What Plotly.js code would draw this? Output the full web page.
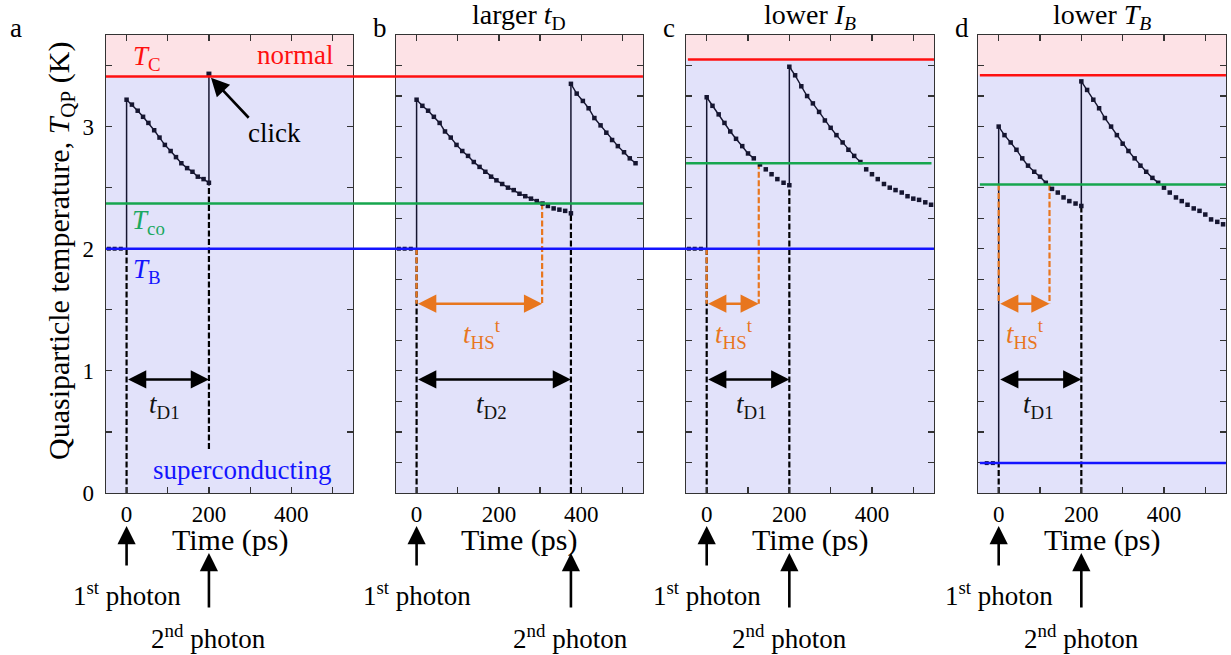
<!DOCTYPE html>
<html><head><meta charset="utf-8">
<script src="https://cdn.plot.ly/plotly-3.0.1.min.js"></script>
<style>body{margin:0;background:#fff}#chart{width:1231px;height:655px}</style>
</head><body><div id="chart"></div>
<script>
// ---------------- data ----------------
const panelLetters = ['a', 'b', 'c', 'd'];
const panelTitles = ['', 'larger <i>t</i><sub>D</sub>', 'lower <i>I</i><sub><i>B</i></sub>', 'lower <i>T</i><sub><i>B</i></sub>'];
const delayLabels = ['<i>t</i><sub>D1</sub>', '<i>t</i><sub>D2</sub>', '<i>t</i><sub>D1</sub>', '<i>t</i><sub>D1</sub>'];
const hotspotLabel = '<i>t</i><sub>HS</sub><sup>t</sup>';
const T_C  = [3.41, 3.41, 3.55, 3.42];     // critical temperature (K)
const T_CO = [2.37, 2.37, 2.70, 2.525];    // cross-over temperature (K)
const T_B  = [2.0, 2.0, 2.0, 0.245];       // bath temperature (K)
const photon1 = [0, 0, 0, 0];              // ps
const photon2 = [200, 375, 200, 200];      // ps
const tHS = [null, 305, 126, 123];         // ps
const photon2DashFrom = [0.36, 0, 0, 0];
const preTimes = [[-43, -29, -14], [-43, -29, -14], [-43, -29, -14], [-29, -14]];

// panel a
const aTime1 = [0, 13, 27, 40, 53, 67, 80, 93, 107, 120, 133, 147, 160, 173, 187, 200];
const aTemp1 = [3.22, 3.18, 3.13, 3.08, 3.03, 2.97, 2.91, 2.85, 2.80, 2.75, 2.70, 2.66, 2.63, 2.59, 2.57, 2.54];
const aClickTemp = 3.43;
// panel b
const bTime1 = [0, 14, 28, 42, 56, 69, 83, 97, 111, 125, 139, 153, 167, 181, 194, 208, 222, 236, 250, 264, 278, 292, 306, 319, 333, 347, 361, 375];
const bTemp1 = [3.22, 3.17, 3.13, 3.08, 3.03, 2.96, 2.91, 2.85, 2.80, 2.76, 2.71, 2.67, 2.63, 2.59, 2.56, 2.53, 2.50, 2.48, 2.45, 2.43, 2.41, 2.39, 2.37, 2.35, 2.33, 2.32, 2.31, 2.29];
const bTime2 = [375, 389, 404, 418, 432, 447, 461, 475, 489, 504, 518, 532];
const bTemp2 = [3.35, 3.27, 3.21, 3.15, 3.07, 3.01, 2.95, 2.89, 2.84, 2.79, 2.74, 2.70];
// panel c
const cTime1 = [0, 14, 29, 43, 57, 71, 86, 100, 114, 129, 143, 157, 171, 186, 200];
const cTemp1 = [3.24, 3.17, 3.10, 3.03, 2.96, 2.90, 2.84, 2.78, 2.74, 2.69, 2.65, 2.61, 2.57, 2.54, 2.52];
const cTime2 = [200, 214, 229, 243, 257, 272, 286, 300, 314, 329, 343, 357, 372, 386, 400, 414, 429, 443, 457, 472, 486, 500, 514, 529, 543];
const cTemp2 = [3.49, 3.42, 3.33, 3.25, 3.19, 3.12, 3.05, 2.99, 2.93, 2.87, 2.81, 2.76, 2.71, 2.65, 2.61, 2.57, 2.53, 2.50, 2.48, 2.46, 2.43, 2.41, 2.40, 2.38, 2.36];
// panel d
const dTime1 = [0, 14, 29, 43, 57, 71, 86, 100, 114, 129, 143, 157, 171, 186, 200];
const dTemp1 = [3.00, 2.93, 2.87, 2.81, 2.74, 2.68, 2.63, 2.59, 2.54, 2.49, 2.46, 2.42, 2.39, 2.37, 2.35];
const dTime2 = [200, 214, 229, 243, 257, 272, 286, 300, 314, 329, 343, 357, 372, 386, 400, 414, 429, 443, 457, 472, 486, 500, 514, 529, 543];
const dTemp2 = [3.37, 3.30, 3.22, 3.15, 3.07, 3.00, 2.93, 2.86, 2.80, 2.74, 2.68, 2.63, 2.58, 2.54, 2.50, 2.46, 2.42, 2.39, 2.36, 2.33, 2.31, 2.28, 2.24, 2.22, 2.20];

// tick labels
const xTickVals = [0, 100, 200, 300, 400, 500];
const xTickText = ['0', '', '200', '', '400', ''];
const yTickValsA = [0, 0.5, 1, 1.5, 2, 2.5, 3, 3.5];
const yTickTextA = ['0', '', '1', '', '2', '', '3', ''];
const yTickValsOther = [0, 0.25, 0.5, 0.75, 1, 1.25, 1.5, 1.75, 2, 2.25, 2.5, 2.75, 3, 3.25, 3.5];

const decays = [
  [[aTime1, aTemp1]],
  [[bTime1, bTemp1], [bTime2, bTemp2]],
  [[cTime1, cTemp1], [cTime2, cTemp2]],
  [[dTime1, dTemp1], [dTime2, dTemp2]]
];

// ---------------- layout constants ----------------
const W = 1231, H = 655;
const FONT = '"Liberation Serif", "Times New Roman", serif';
const xDomains = [[0.0861, 0.2868], [0.3217, 0.5223], [0.5573, 0.7587], [0.7945, 0.9959]];
const yDomain = [0.2473, 0.9466];
const X_RANGE = [-50, 550], Y_RANGE = [0, 3.75];
const HS_Y = 1.55, D_Y = 0.93;
const INK = '#151530', RED = '#ff1010', GREEN = '#16a64e', BLUE = '#1414ff', ORANGE = '#e8761e';
const PINK = '#fde2e6', LAVENDER = '#e2e2fa';
const DASH = '6px,2.5px';
const ARROW = {arrowhead: 2, arrowsize: 1.4, arrowwidth: 2.6, standoff: 0};
const py = px => 1 - px / H;
const pxX = px => px / W;

const traces = [];
const shapes = [];
const annotations = [];
const layout = {
  width: W, height: H, margin: {l: 0, r: 0, t: 0, b: 0},
  paper_bgcolor: '#fff', plot_bgcolor: LAVENDER, showlegend: false,
  font: {family: FONT, color: '#000'}
};

function seg(x, y, color, dash, width, xa, ya) {
  traces.push({x, y, xaxis: xa, yaxis: ya, mode: 'lines', hoverinfo: 'skip',
    line: {color, width, dash}});
}
function label(obj) {
  annotations.push(Object.assign({showarrow: false, xanchor: 'center', yanchor: 'middle'}, obj));
}
function doubleArrow(xa, ya, x0, x1, y, color) {
  annotations.push(Object.assign({xref: xa, yref: ya, axref: xa, ayref: ya, x: x1, y, ax: x0, ay: y,
    text: '', showarrow: true, startarrowhead: 2, arrowside: 'end+start', startarrowsize: 1.4,
    startstandoff: 0, arrowcolor: color}, ARROW));
}

panelLetters.forEach((letter, i) => {
  const s = i === 0 ? '' : String(i + 1);
  const xa = 'x' + s, ya = 'y' + s;
  layout['xaxis' + s] = {
    domain: xDomains[i], range: X_RANGE, anchor: ya,
    tickmode: 'array', tickvals: xTickVals, ticktext: xTickText,
    ticks: 'inside', ticklen: 6, tickwidth: 1.2, tickcolor: '#333',
    mirror: 'allticks', showline: true, linecolor: '#333', linewidth: 1.3,
    showgrid: false, zeroline: false,
    tickfont: {family: FONT, size: 23, color: '#000'}, ticklabelstandoff: 0
  };
  layout['yaxis' + s] = {
    domain: yDomain, range: Y_RANGE, anchor: xa,
    tickmode: 'array',
    tickvals: i === 0 ? yTickValsA : yTickValsOther,
    ticktext: i === 0 ? yTickTextA : undefined,
    showticklabels: i === 0,
    ticks: 'inside', ticklen: 6, tickwidth: 1.2, tickcolor: '#333',
    mirror: 'allticks', showline: true, linecolor: '#333', linewidth: 1.3,
    showgrid: false, zeroline: false,
    tickfont: {family: FONT, size: 23, color: '#000'}, ticklabelstandoff: 6
  };

  // normal-state (pink) region
  shapes.push({type: 'rect', xref: xa + ' domain', yref: ya, x0: 0, x1: 1, y0: T_C[i], y1: Y_RANGE[1],
    fillcolor: PINK, line: {width: 0}, layer: 'below'});

  const p1 = photon1[i], p2 = photon2[i];
  const d1 = decays[i][0];
  const last1 = d1[1][d1[1].length - 1];
  const peak2 = i === 0 ? aClickTemp : decays[i][1][1][0];

  // pre-photon samples at the bath temperature
  traces.push({x: preTimes[i], y: preTimes[i].map(() => T_B[i]), xaxis: xa, yaxis: ya, mode: 'markers',
    hoverinfo: 'skip', marker: {symbol: 'square', size: 4, color: INK}});

  // photon-1 jump
  seg([p1, p1], [0, T_B[i]], '#000', DASH, 2.2, xa, ya);
  seg([p1, p1], [T_B[i], d1[1][0]], INK, 'solid', 1.5, xa, ya);
  // photon-2 jump
  seg([p2, p2], [photon2DashFrom[i], last1], '#000', DASH, 2.2, xa, ya);
  seg([p2, p2], [last1, peak2], INK, 'solid', 1.5, xa, ya);

  // orange hotspot markers
  if (tHS[i] !== null) {
    seg([p1, p1], [i === 3 ? T_CO[i] : T_B[i], HS_Y], ORANGE, DASH, 2.2, xa, ya);
    seg([tHS[i], tHS[i]], [T_CO[i], HS_Y], ORANGE, DASH, 2.2, xa, ya);
    doubleArrow(xa, ya, p1, tHS[i], HS_Y, ORANGE);
    label({xref: xa, yref: ya, x: [0, 159, 66, 63][i], y: 1.30, text: hotspotLabel,
      font: {size: 27, color: ORANGE, family: FONT}});
  }

  // decay curves
  decays[i].forEach(([t, T]) => {
    const hotT = t.filter((_, k) => T[k] >= T_CO[i]);
    const hotV = T.filter(v => v >= T_CO[i]);
    seg(hotT, hotV, INK, 'solid', 1.4, xa, ya);
    traces.push({x: t, y: T, xaxis: xa, yaxis: ya, mode: 'markers', hoverinfo: 'skip',
      marker: {symbol: 'square', size: 4.5, color: INK}});
  });
  if (i === 0) {
    traces.push({x: [p2], y: [aClickTemp], xaxis: xa, yaxis: ya, mode: 'markers', hoverinfo: 'skip',
      marker: {symbol: 'square', size: 5, color: INK}});
  }

  // delay arrow
  doubleArrow(xa, ya, p1, p2, D_Y, '#000');
  label({xref: xa, yref: ya, x: [93, 183, 109, 97][i], y: 0.71, text: delayLabels[i],
    font: {size: 27, color: '#111', family: FONT}});

  // photon arrows below the axis
  annotations.push(Object.assign({xref: xa, yref: 'paper', x: p1, y: py(526), ax: 0, ay: 41, axref: 'pixel', ayref: 'pixel',
    text: '', showarrow: true, arrowcolor: '#000'}, ARROW));
  annotations.push(Object.assign({xref: xa, yref: 'paper', x: p2, y: py(553), ax: 0, ay: 56, axref: 'pixel', ayref: 'pixel',
    text: '', showarrow: true, arrowcolor: '#000'}, ARROW));
  label({xref: xa, yref: 'paper', x: p1, y: py(594), text: '1<sup>st</sup> photon',
    font: {size: 27, family: FONT, color: '#000'}});
  label({xref: xa, yref: 'paper', x: p2, y: py(637), text: '2<sup>nd</sup> photon',
    font: {size: 27, family: FONT, color: '#000'}});

  // x-axis title
  label({xref: 'paper', yref: 'paper', x: (xDomains[i][0] + xDomains[i][1]) / 2, y: py(540),
    text: 'Time (ps)', font: {size: 30, family: FONT, color: '#000'}});

  // panel letter and title
  label({xref: 'paper', yref: 'paper', x: pxX([16, 380, 669, 962][i]), y: py(28), text: letter,
    font: {size: 27, family: FONT, color: '#000'}});
  if (panelTitles[i]) {
    label({xref: 'paper', yref: 'paper', x: (xDomains[i][0] + xDomains[i][1]) / 2, y: py(17),
      text: panelTitles[i], font: {size: 28, family: FONT, color: '#000'}});
  }
});

// threshold lines (some span several panels)
function hline(x0, x1, yv, color) {
  shapes.push({type: 'line', xref: 'paper', yref: 'y', x0, x1, y0: yv, y1: yv,
    line: {color, width: 2.5}, layer: 'above'});
}
hline(xDomains[0][0], xDomains[1][1], T_C[0], RED);
hline(xDomains[2][0] + 0.0015, xDomains[2][1], T_C[2], RED);
hline(xDomains[3][0] + 0.0015, xDomains[3][1], T_C[3], RED);
hline(xDomains[0][0], xDomains[1][1], T_CO[0], GREEN);
hline(xDomains[2][0], xDomains[2][1] - 0.002, T_CO[2], GREEN);
hline(xDomains[3][0] + 0.0015, xDomains[3][1], T_CO[3], GREEN);
hline(xDomains[0][0], xDomains[2][1], T_B[0], BLUE);
hline(xDomains[3][0] + 0.0015, xDomains[3][1], T_B[3], BLUE);

// panel a labels
label({xref: 'x', yref: 'y', x: 50, y: 3.56, text: '<i>T</i><sub>C</sub>', font: {size: 27, color: RED, family: FONT}});
label({xref: 'x', yref: 'y', x: 409, y: 3.59, text: 'normal', font: {size: 27, color: RED, family: FONT}});
label({xref: 'x', yref: 'y', x: 54, y: 2.22, text: '<i>T</i><sub>co</sub>', font: {size: 27, color: '#1aa860', family: FONT}});
label({xref: 'x', yref: 'y', x: 50, y: 1.82, text: '<i>T</i><sub>B</sub>', font: {size: 27, color: BLUE, family: FONT}});
label({xref: 'x', yref: 'y', x: 281, y: 0.19, text: 'superconducting', font: {size: 27, color: BLUE, family: FONT}});
label({xref: 'x', yref: 'y', x: 360, y: 2.95, text: 'click', font: {size: 27, color: '#000', family: FONT}});
annotations.push(Object.assign({xref: 'x', yref: 'y', axref: 'x', ayref: 'y', x: 205, y: 3.40, ax: 300, ay: 3.06,
  text: '', showarrow: true, arrowcolor: '#000'}, ARROW));

// y-axis title
label({xref: 'paper', yref: 'paper', x: pxX(61), y: py(251), textangle: -90,
  text: 'Quasiparticle temperature, <i>T</i><sub>QP</sub> (K)', font: {size: 30, family: FONT, color: '#000'}});

layout.shapes = shapes;
layout.annotations = annotations;
Plotly.newPlot('chart', traces, layout, {displayModeBar: false, staticPlot: true});
</script>
</body></html>
